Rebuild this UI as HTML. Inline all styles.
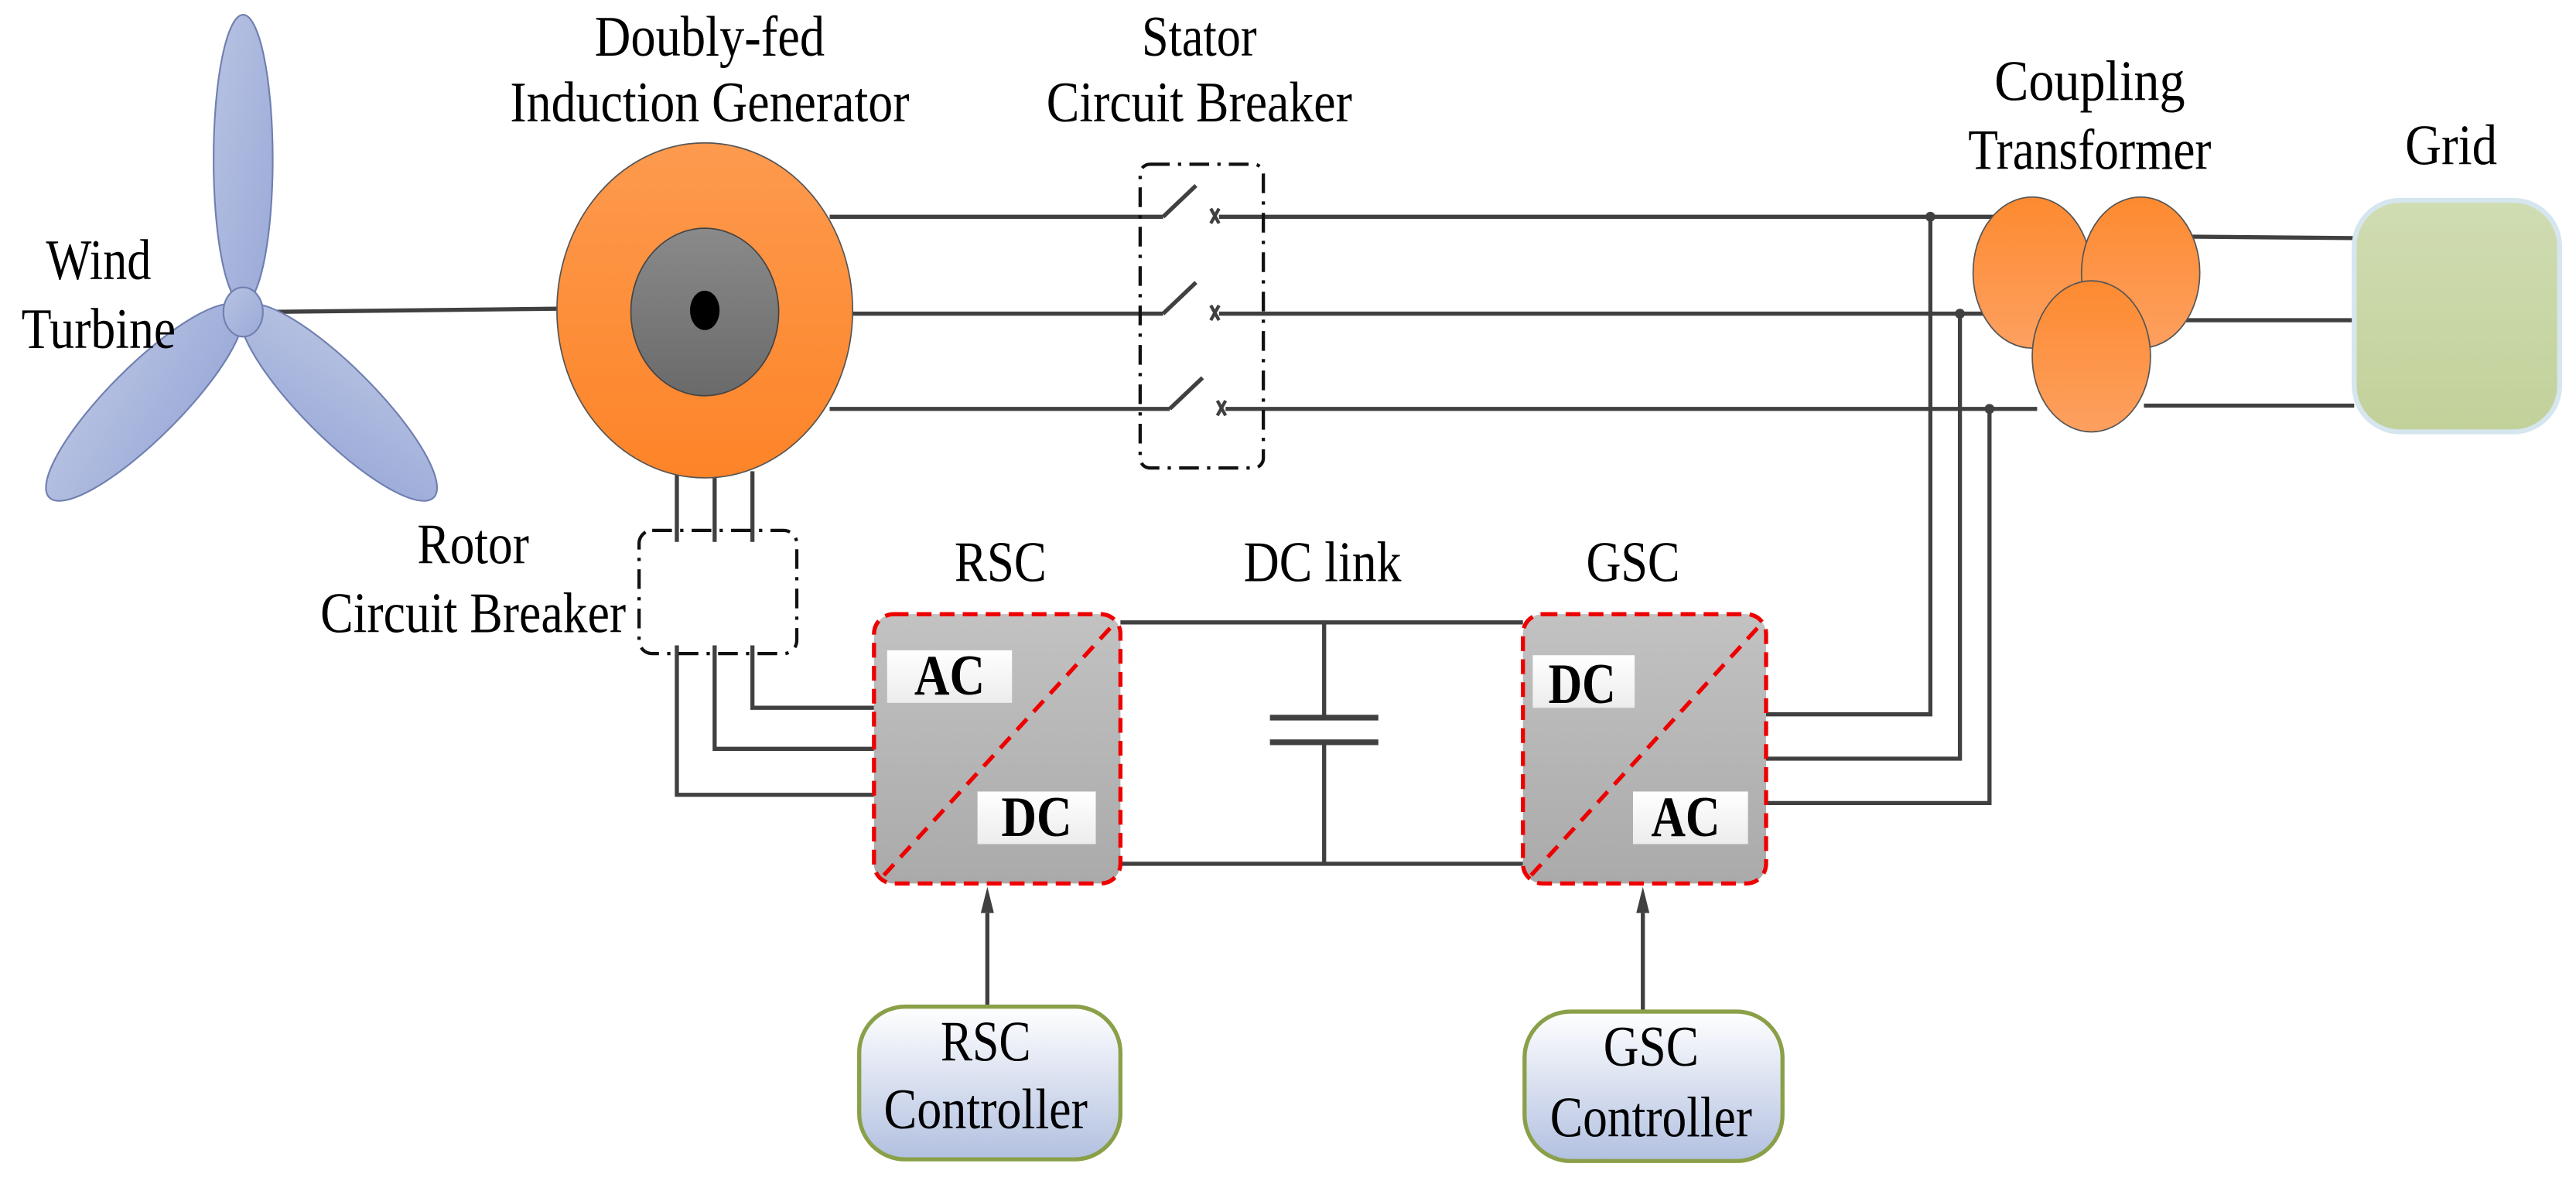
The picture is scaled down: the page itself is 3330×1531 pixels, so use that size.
<!DOCTYPE html>
<html><head><meta charset="utf-8"><style>html,body{margin:0;padding:0;background:#fff}svg{display:block}</style></head>
<body>
<svg width="3330" height="1531" viewBox="0 0 1568 721" preserveAspectRatio="none" xmlns="http://www.w3.org/2000/svg" font-family="Liberation Serif, serif">
<defs>
<linearGradient id="blade" x1="0" y1="0" x2="1" y2="1"><stop offset="0" stop-color="#b8c3e2"/><stop offset="1" stop-color="#9aa9d8"/></linearGradient>
<linearGradient id="gen" x1="0" y1="0" x2="0" y2="1"><stop offset="0" stop-color="#fd9a4e"/><stop offset="1" stop-color="#fd8428"/></linearGradient>
<linearGradient id="inner" x1="0" y1="0" x2="0" y2="1"><stop offset="0" stop-color="#8a8a8a"/><stop offset="1" stop-color="#6a6a6a"/></linearGradient>
<linearGradient id="tr" x1="0" y1="0" x2="0" y2="1"><stop offset="0" stop-color="#fd8a30"/><stop offset="1" stop-color="#fda060"/></linearGradient>
<linearGradient id="grid" x1="0" y1="0" x2="0" y2="1"><stop offset="0" stop-color="#d0dcb2"/><stop offset="1" stop-color="#c2d19a"/></linearGradient>
<linearGradient id="conv" x1="0" y1="0" x2="0" y2="1"><stop offset="0" stop-color="#c2c2c2"/><stop offset="1" stop-color="#aaaaaa"/></linearGradient>
<linearGradient id="lbl" x1="0" y1="0" x2="0" y2="1"><stop offset="0" stop-color="#fff"/><stop offset="1" stop-color="#ececec"/></linearGradient>
<linearGradient id="ctl" x1="0" y1="0" x2="0" y2="1"><stop offset="0" stop-color="#fff"/><stop offset="1" stop-color="#b2c0e0"/></linearGradient>
</defs>
<g stroke="#404040" stroke-width="2.5" fill="none">
<line x1="158" y1="190" x2="339" y2="188"/>
<line x1="505" y1="132" x2="708" y2="132"/><line x1="708" y1="132" x2="728" y2="113"/><line x1="742" y1="132" x2="1235" y2="132"/>
<line x1="518" y1="191" x2="708" y2="191"/><line x1="708" y1="191" x2="728" y2="172"/><line x1="742" y1="191" x2="1235" y2="191"/>
<line x1="505" y1="249" x2="712" y2="249"/><line x1="712" y1="249" x2="732" y2="230"/><line x1="746" y1="249" x2="1240" y2="249"/>
<path d="M737 127l5 9M737 136l5-9M737 186l5 9M737 195l5-9M741 244l5 9M741 253l5-9" stroke-width="2"/>
<polyline points="1175,132 1175,435 1075,435"/>
<polyline points="1193,191 1193,462 1075,462"/>
<polyline points="1211,249 1211,489 1075,489"/>
<line x1="1320" y1="144" x2="1433" y2="145"/>
<line x1="1315" y1="195" x2="1433" y2="195"/>
<line x1="1305" y1="247" x2="1433" y2="247"/>
<line x1="412" y1="287" x2="412" y2="330"/><line x1="435" y1="287" x2="435" y2="330"/><line x1="458" y1="287" x2="458" y2="330"/>
<polyline points="458,393 458,431 532,431"/>
<polyline points="435,393 435,456 532,456"/>
<polyline points="412,393 412,484 532,484"/>
<line x1="682" y1="379" x2="927" y2="379"/>
<line x1="682" y1="526" x2="927" y2="526"/>
<line x1="806" y1="379" x2="806" y2="437"/><line x1="806" y1="452" x2="806" y2="526"/>
<line x1="773" y1="437" x2="839" y2="437" stroke-width="3.5"/><line x1="773" y1="452" x2="839" y2="452" stroke-width="3.5"/>
<line x1="601" y1="612" x2="601" y2="556"/>
<line x1="1000" y1="615" x2="1000" y2="556"/>
</g>
<path d="M601 540l-4 16h8z M1000 540l-4 16h8z" fill="#404040"/>
<g fill="#404040"><circle cx="1175" cy="132" r="3"/><circle cx="1193" cy="191" r="3"/><circle cx="1211" cy="249" r="3"/></g>
<rect x="694" y="100" width="75" height="185" rx="6" fill="none" stroke="#111" stroke-width="2" stroke-dasharray="12,5,2,5"/>
<rect x="389" y="323" width="96" height="75" rx="8" fill="none" stroke="#111" stroke-width="2" stroke-dasharray="12,5,2,5"/>
<g fill="url(#blade)" stroke="#6f7fb0" stroke-width="1">
<ellipse cx="148" cy="97" rx="18" ry="88"/>
<ellipse cx="88" cy="245" rx="82" ry="22" transform="rotate(-45 88 245)"/>
<ellipse cx="206" cy="245" rx="82" ry="22" transform="rotate(45 206 245)"/>
<ellipse cx="148" cy="190" rx="12" ry="15"/>
</g>
<ellipse cx="429" cy="189" rx="90" ry="102" fill="url(#gen)" stroke="#555" stroke-width="0.8"/>
<ellipse cx="429" cy="190" rx="45" ry="51" fill="url(#inner)" stroke="#444" stroke-width="0.8"/>
<ellipse cx="429" cy="189" rx="9" ry="12" fill="#000"/>
<g fill="url(#tr)" stroke="#555" stroke-width="0.8">
<ellipse cx="1237" cy="166" rx="36" ry="46"/>
<ellipse cx="1303" cy="166" rx="36" ry="46"/>
<ellipse cx="1273" cy="217" rx="36" ry="46"/>
</g>
<rect x="1433" y="122" width="125" height="141" rx="28" fill="url(#grid)" stroke="#d6e6ee" stroke-width="3"/>
<rect x="532" y="374" width="150" height="164" rx="12" fill="url(#conv)" stroke="#e00" stroke-width="2.5" stroke-dasharray="9,5"/>
<line x1="538" y1="533" x2="678" y2="380" stroke="#e00" stroke-width="2.5" stroke-dasharray="9,6"/>
<rect x="540" y="396" width="76" height="32" fill="url(#lbl)"/>
<rect x="595" y="482" width="72" height="32" fill="url(#lbl)"/>
<rect x="927" y="374" width="148" height="164" rx="12" fill="url(#conv)" stroke="#e00" stroke-width="2.5" stroke-dasharray="9,5"/>
<line x1="932" y1="533" x2="1072" y2="380" stroke="#e00" stroke-width="2.5" stroke-dasharray="9,6"/>
<rect x="933" y="399" width="62" height="32" fill="url(#lbl)"/>
<rect x="994" y="482" width="70" height="32" fill="url(#lbl)"/>
<rect x="523" y="613" width="159" height="93" rx="28" fill="url(#ctl)" stroke="#8aa048" stroke-width="2.5"/>
<rect x="928" y="616" width="157" height="91" rx="28" fill="url(#ctl)" stroke="#8aa048" stroke-width="2.5"/>
<g font-size="35" fill="#000" text-anchor="middle">
<text x="60" y="170" textLength="64" lengthAdjust="spacingAndGlyphs">Wind</text>
<text x="60" y="212" textLength="94" lengthAdjust="spacingAndGlyphs">Turbine</text>
<text x="432" y="34" textLength="140" lengthAdjust="spacingAndGlyphs">Doubly-fed</text>
<text x="432" y="74" textLength="243" lengthAdjust="spacingAndGlyphs">Induction Generator</text>
<text x="730" y="34" textLength="70" lengthAdjust="spacingAndGlyphs">Stator</text>
<text x="730" y="74" textLength="186" lengthAdjust="spacingAndGlyphs">Circuit Breaker</text>
<text x="1272" y="61" textLength="116" lengthAdjust="spacingAndGlyphs">Coupling</text>
<text x="1272" y="103" textLength="148" lengthAdjust="spacingAndGlyphs">Transformer</text>
<text x="1492" y="100" textLength="56" lengthAdjust="spacingAndGlyphs">Grid</text>
<text x="288" y="343" textLength="68" lengthAdjust="spacingAndGlyphs">Rotor</text>
<text x="288" y="385" textLength="186" lengthAdjust="spacingAndGlyphs">Circuit Breaker</text>
<text x="609" y="354" textLength="56" lengthAdjust="spacingAndGlyphs">RSC</text>
<text x="805" y="354" textLength="96" lengthAdjust="spacingAndGlyphs">DC link</text>
<text x="994" y="354" textLength="57" lengthAdjust="spacingAndGlyphs">GSC</text>
<text x="600" y="646" textLength="55" lengthAdjust="spacingAndGlyphs">RSC</text>
<text x="600" y="687" textLength="124" lengthAdjust="spacingAndGlyphs">Controller</text>
<text x="1005" y="649" textLength="58" lengthAdjust="spacingAndGlyphs">GSC</text>
<text x="1005" y="692" textLength="123" lengthAdjust="spacingAndGlyphs">Controller</text>
</g>
<g font-size="35" font-weight="bold" fill="#000" text-anchor="middle">
<text x="578" y="423" textLength="43" lengthAdjust="spacingAndGlyphs">AC</text>
<text x="631" y="509" textLength="43" lengthAdjust="spacingAndGlyphs">DC</text>
<text x="963" y="428" textLength="41" lengthAdjust="spacingAndGlyphs">DC</text>
<text x="1026" y="509" textLength="42" lengthAdjust="spacingAndGlyphs">AC</text>
</g>
</svg>
</body></html>
